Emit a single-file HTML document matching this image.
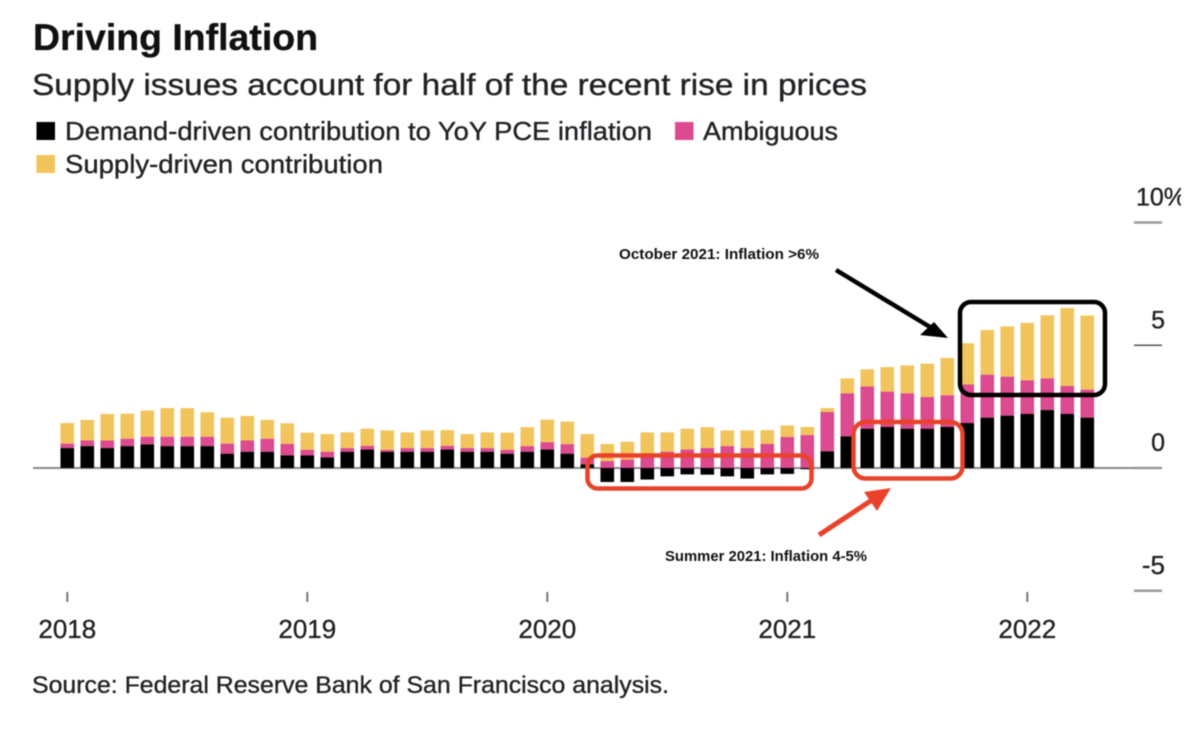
<!DOCTYPE html>
<html lang="en">
<head>
<meta charset="utf-8">
<title>Driving Inflation</title>
<style>
  html, body { margin: 0; padding: 0; background: #fff; }
  #chart { display: block; width: 1200px; height: 730px; filter: blur(0.55px); }
  text { font-family: "Liberation Sans", sans-serif; fill: #222226; stroke: #222226; stroke-width: 0.35px; }
</style>
</head>
<body>
<svg id="chart" xmlns="http://www.w3.org/2000/svg" width="1200" height="730" viewBox="0 0 1200 730">
  <defs>
    <clipPath id="page-clip"><rect x="0" y="0" width="1181" height="730"></rect></clipPath>
  </defs>
  <rect x="0" y="0" width="1200" height="730" fill="#fff"></rect>

  <text x="33" y="50" font-size="37" font-weight="700" style="fill:#111;stroke:#111" textLength="285" lengthAdjust="spacingAndGlyphs">Driving Inflation</text>
  <text x="32" y="95" font-size="31" textLength="835" lengthAdjust="spacingAndGlyphs">Supply issues account for half of the recent rise in prices</text>

  <g>
    <rect x="36.5" y="122" width="18.5" height="18" fill="#000"></rect>
    <text x="65" y="140" font-size="26" textLength="587" lengthAdjust="spacingAndGlyphs">Demand-driven contribution to YoY PCE inflation</text>
    <rect x="675" y="122" width="18.5" height="18" fill="#DC4A90"></rect>
    <text x="703" y="140" font-size="26" textLength="135" lengthAdjust="spacingAndGlyphs">Ambiguous</text>
    <rect x="36.5" y="155" width="18.5" height="18" fill="#F1C45C"></rect>
    <text x="65" y="173" font-size="26" textLength="318" lengthAdjust="spacingAndGlyphs">Supply-driven contribution</text>
  </g>

  <g id="axes"></g>
  <g id="bars"></g>

  <g>
    <rect x="960" y="302" width="145" height="93" rx="11" ry="11" fill="none" stroke="#000" stroke-width="4.5"></rect>
    <rect x="587.5" y="455.5" width="224" height="33" rx="10" ry="10" fill="none" stroke="#E8432A" stroke-width="4.5"></rect>
    <rect x="853.5" y="422" width="109" height="56.5" rx="12" ry="12" fill="none" stroke="#E8432A" stroke-width="4.5"></rect>

    <g>
      <line x1="836" y1="270" x2="930" y2="327" stroke="#000" stroke-width="4.5"></line>
      <polygon points="948,338 934,322 920,335" fill="#000"></polygon>
    </g>
    <g>
      <line x1="819" y1="535" x2="872" y2="500" stroke="#E8432A" stroke-width="5"></line>
      <polygon points="891,488 864,492 877,511" fill="#E8432A"></polygon>
    </g>

    <text x="619" y="259" font-size="15" font-weight="700" style="fill:#111;stroke:none" textLength="200" lengthAdjust="spacingAndGlyphs">October 2021: Inflation &gt;6%</text>
    <text x="665" y="561" font-size="15" font-weight="700" style="fill:#111;stroke:none" textLength="202" lengthAdjust="spacingAndGlyphs">Summer 2021: Inflation 4-5%</text>
  </g>

  <text x="32" y="693" font-size="24" textLength="637" lengthAdjust="spacingAndGlyphs">Source: Federal Reserve Bank of San Francisco analysis.</text>
</svg>

<script>
const months = [
  "2018-01","2018-02","2018-03","2018-04","2018-05","2018-06","2018-07","2018-08","2018-09","2018-10","2018-11","2018-12",
  "2019-01","2019-02","2019-03","2019-04","2019-05","2019-06","2019-07","2019-08","2019-09","2019-10","2019-11","2019-12",
  "2020-01","2020-02","2020-03","2020-04","2020-05","2020-06","2020-07","2020-08","2020-09","2020-10","2020-11","2020-12",
  "2021-01","2021-02","2021-03","2021-04","2021-05","2021-06","2021-07","2021-08","2021-09","2021-10","2021-11","2021-12",
  "2022-01","2022-02","2022-03","2022-04"
];
const demand = [
  0.81,0.89,0.81,0.89,0.96,0.89,0.89,0.89,0.58,0.66,0.66,0.51,
  0.51,0.43,0.66,0.75,0.66,0.66,0.66,0.75,0.66,0.66,0.58,0.66,
  0.75,0.58,0.15,-0.57,-0.57,-0.47,-0.34,-0.26,-0.27,-0.34,-0.43,-0.26,
  -0.24,-0.05,0.68,1.29,1.60,1.67,1.60,1.60,1.67,1.83,2.05,2.13,
  2.20,2.36,2.20,2.05
];
const ambiguous = [
  0.18,0.23,0.31,0.30,0.31,0.38,0.38,0.38,0.41,0.46,0.53,0.47,
  0.23,0.23,0.15,0.15,0.08,0.15,0.15,0.15,0.15,0.15,0.16,0.23,
  0.30,0.39,0.27,0.28,0.34,0.45,0.66,0.75,0.81,0.89,0.81,0.98,
  1.26,1.34,1.60,1.75,1.72,1.44,1.44,1.29,1.29,1.57,1.75,1.59,
  1.37,1.29,1.14,1.14
];
const supply = [
  0.84,0.84,1.08,1.02,1.07,1.17,1.17,1.00,1.06,1.00,0.77,0.84,
  0.70,0.72,0.64,0.70,0.79,0.64,0.72,0.64,0.57,0.64,0.70,0.77,
  0.92,0.92,0.96,0.70,0.73,1.00,0.79,0.85,0.85,0.64,0.72,0.56,
  0.47,0.33,0.16,0.61,0.70,1.00,1.14,1.36,1.52,1.68,1.82,2.05,
  2.34,2.57,3.18,3.02
];
const yearLabels = ["2018","2019","2020","2021","2022"];
const valueTicks = [10, 5, 0, -5];
const valueTickLabels = ["10%","5","0","-5"];

const NS = "http://www.w3.org/2000/svg";
const barsGroup = document.getElementById("bars");
const axesGroup = document.getElementById("axes");

function xScale(i) { return 67.3 + 20 * i; }
function yScale(v) { return 468 - 24.55 * v; }

function makeRect(x, y0, y1, w, fill) {
  const r = document.createElementNS(NS, "rect");
  r.setAttribute("x", x);
  r.setAttribute("y", Math.min(y0, y1));
  r.setAttribute("width", w);
  r.setAttribute("height", Math.abs(y1 - y0));
  r.setAttribute("fill", fill);
  return r;
}

// baseline
const zeroLine = document.createElementNS(NS, "line");
zeroLine.setAttribute("x1", 33);
zeroLine.setAttribute("x2", 1134);
zeroLine.setAttribute("y1", yScale(0));
zeroLine.setAttribute("y2", yScale(0));
zeroLine.setAttribute("stroke", "#8a8a8a");
zeroLine.setAttribute("stroke-width", 2);


axesGroup.appendChild(zeroLine);

// y axis
valueTicks.forEach(function (v, i) {
  const tick = document.createElementNS(NS, "line");
  tick.setAttribute("x1", 1134);
  tick.setAttribute("x2", 1162);
  tick.setAttribute("y1", yScale(v));
  tick.setAttribute("y2", yScale(v));
  tick.setAttribute("stroke", v === 5 ? "#555" : "#999");
  tick.setAttribute("stroke-width", v === 5 ? 1.5 : 2.5);
  
  
  axesGroup.appendChild(tick);

  const label = document.createElementNS(NS, "text");
  label.setAttribute("x", i === 0 ? 1136 : 1165);
  label.setAttribute("y", yScale(v) - 17);
  label.setAttribute("text-anchor", i === 0 ? "start" : "end");
  label.setAttribute("font-size", i === 3 ? 26 : 25);
  label.setAttribute("clip-path", "url(#page-clip)");
  label.textContent = valueTickLabels[i];
  
  
  axesGroup.appendChild(label);
});

// x axis
yearLabels.forEach(function (year) {
  const cx = xScale(months.indexOf(year + "-01"));
  const tick = document.createElementNS(NS, "line");
  tick.setAttribute("x1", cx);
  tick.setAttribute("x2", cx);
  tick.setAttribute("y1", 592);
  tick.setAttribute("y2", 602);
  tick.setAttribute("stroke", "#777");
  tick.setAttribute("stroke-width", 2);
  
  
  axesGroup.appendChild(tick);

  const label = document.createElementNS(NS, "text");
  label.setAttribute("x", cx);
  label.setAttribute("y", 638);
  label.setAttribute("text-anchor", "middle");
  label.setAttribute("font-size", 26);
  label.textContent = year;
  
  
  axesGroup.appendChild(label);
});

// bars
const barWidth = 13.6;
months.forEach(function (month, i) {
  const left = xScale(i) - barWidth / 2;
  const d = demand[i];
  const base = Math.max(d, 0);
  const ambTop = base + ambiguous[i];
  const supTop = ambTop + supply[i];

  const supplyBar = makeRect(left, yScale(ambTop), yScale(supTop), barWidth, "#F1C45C");
  
  
  barsGroup.appendChild(supplyBar);

  const ambiguousBar = makeRect(left, yScale(base), yScale(ambTop), barWidth, "#DC4A90");
  
  
  barsGroup.appendChild(ambiguousBar);

  const demandBar = makeRect(left, yScale(0), yScale(d), barWidth, "#000");
  
  
  barsGroup.appendChild(demandBar);
});
</script>
</body>
</html>
